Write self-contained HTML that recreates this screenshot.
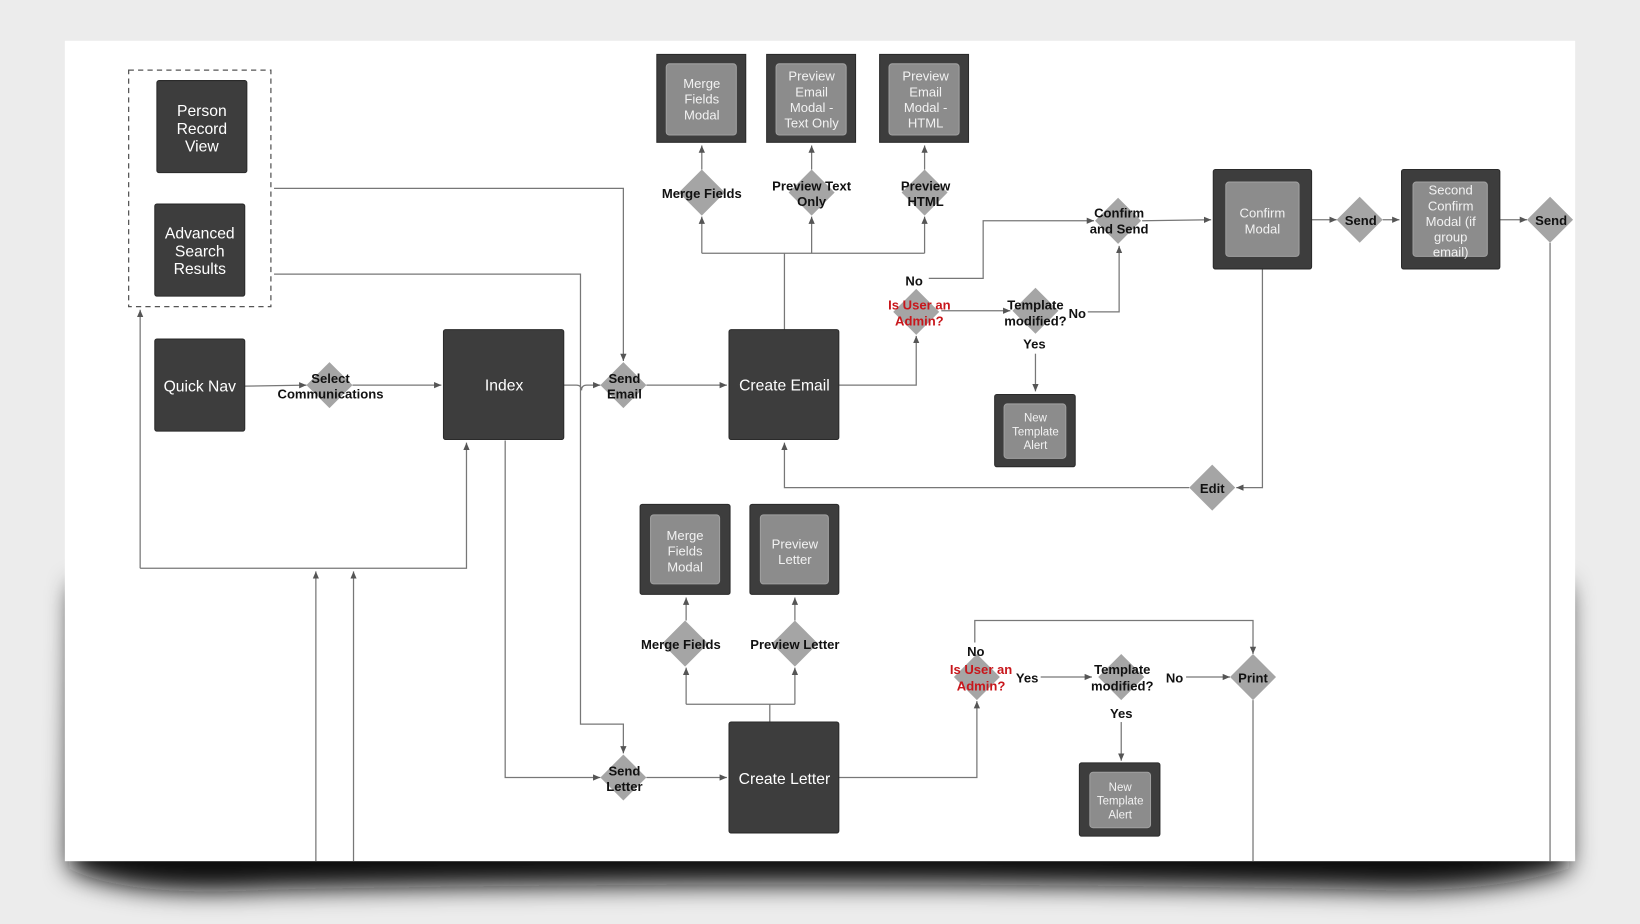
<!DOCTYPE html>
<html><head><meta charset="utf-8"><style>
html,body{margin:0;padding:0;background:#ececec;overflow:hidden}
svg{display:block}
text{font-family:"Liberation Sans",Arial,sans-serif}
.l{font-size:12.5px;font-weight:bold;fill:#111;text-anchor:middle}
.r{font-size:12.5px;font-weight:bold;fill:#c8161b;text-anchor:middle}
.w{font-size:15px;fill:#fff;text-anchor:middle}
.s{font-size:12.5px;fill:#f2f2f2;text-anchor:middle}
.t{font-size:11px;fill:#f2f2f2;text-anchor:middle}
.ln{stroke:#777;stroke-width:1.2;fill:none}
.bx{fill:#3d3d3d;stroke:#2a2a2a;stroke-width:1}
.in{fill:#8c8c8c;stroke:#a0a0a0;stroke-width:1}
.d{fill:#a5a5a5}
</style></head><body>
<svg width="1640" height="924" viewBox="0 0 1568 883" preserveAspectRatio="none">
<defs>
<filter id="bl" x="-20%" y="-50%" width="140%" height="200%"><feGaussianBlur stdDeviation="12"/></filter>
<marker id="a" markerWidth="8" markerHeight="8" refX="7" refY="4" orient="auto" markerUnits="userSpaceOnUse"><path d="M0,1 L7,4 L0,7 z" fill="#555"/></marker>
</defs>
<rect width="1568" height="883" fill="#ececec"/>
<path d="M70,560 L1498,560 L1500,830 Q1420,855 1300,850 Q784,840 260,850 Q120,858 66,830 Z" fill="#111" filter="url(#bl)"/>
<rect x="62" y="39" width="1444" height="784" fill="#fff"/>

<!-- connectors -->
<g class="ln">
<rect x="123" y="67" width="136" height="226" stroke-dasharray="5,4" stroke="#555"/>
<path d="M234,369 L293,368" marker-end="url(#a)"/>
<path d="M337,368 L422,368" marker-end="url(#a)"/>
<path d="M539,368 L551,368 Q556,368 556,373 Q556,368 561,368 L574,368" marker-end="url(#a)"/>
<path d="M618,368 L695,368" marker-end="url(#a)"/>
<path d="M262,180 L596,180 L596,345" marker-end="url(#a)"/>
<path d="M262,262 L555,262 L555,692 L596,692 L596,720" marker-end="url(#a)"/>
<path d="M483,421 L483,743 L574,743" marker-end="url(#a)"/>
<path d="M618,743 L695,743" marker-end="url(#a)"/>
<path d="M134,543 L446,543 L446,423" marker-end="url(#a)"/>
<path d="M134,543 L134,296" marker-end="url(#a)"/>
<path d="M302,823 L302,546" marker-end="url(#a)"/>
<path d="M338,823 L338,546" marker-end="url(#a)"/>
<path d="M750,315 L750,242 M671,242 L884,242"/>
<path d="M671,242 L671,207" marker-end="url(#a)"/>
<path d="M776,242 L776,207" marker-end="url(#a)"/>
<path d="M884,242 L884,207" marker-end="url(#a)"/>
<path d="M671,162 L671,139" marker-end="url(#a)"/>
<path d="M776,162 L776,139" marker-end="url(#a)"/>
<path d="M884,162 L884,139" marker-end="url(#a)"/>
<path d="M802,368 L876,368 L876,321" marker-end="url(#a)"/>
<path d="M888,266 L940,266 L940,211 L1046,211" marker-end="url(#a)"/>
<path d="M900,297 L966,297" marker-end="url(#a)"/>
<path d="M1040,298 L1070,298 L1070,235" marker-end="url(#a)"/>
<path d="M990,338 L990,374" marker-end="url(#a)"/>
<path d="M1092,211 L1158,210" marker-end="url(#a)"/>
<path d="M1254,210 L1278,210" marker-end="url(#a)"/>
<path d="M1322,210 L1338,210" marker-end="url(#a)"/>
<path d="M1434,210 L1460,210" marker-end="url(#a)"/>
<path d="M1482,232 L1482,823"/>
<path d="M1207,257 L1207,466 L1182,466" marker-end="url(#a)"/>
<path d="M1137,466 L750,466 L750,423" marker-end="url(#a)"/>
<path d="M736,690 L736,673 M656,673 L760,673"/>
<path d="M656,673 L656,638" marker-end="url(#a)"/>
<path d="M760,673 L760,638" marker-end="url(#a)"/>
<path d="M656,593 L656,571" marker-end="url(#a)"/>
<path d="M760,593 L760,571" marker-end="url(#a)"/>
<path d="M802,743 L934,743 L934,670" marker-end="url(#a)"/>
<path d="M932,614 L932,593 L1198,593 L1198,625" marker-end="url(#a)"/>
<path d="M995,647 L1044,647" marker-end="url(#a)"/>
<path d="M1134,647 L1176,647" marker-end="url(#a)"/>
<path d="M1072,690 L1072,727" marker-end="url(#a)"/>
<path d="M1198,669 L1198,823"/>
</g>

<!-- diamonds -->
<g class="d">
<polygon points="315,346 337,368 315,390 293,368"/>
<polygon points="596,346 618,368 596,390 574,368"/>
<polygon points="671,162 693,184 671,206 649,184"/>
<polygon points="776,162 798,184 776,206 754,184"/>
<polygon points="884,162 906,184 884,206 862,184"/>
<polygon points="876,276 898,298 876,320 854,298"/>
<polygon points="990,275 1012,297 990,319 968,297"/>
<polygon points="1069,189 1091,211 1069,233 1047,211"/>
<polygon points="1300,188 1322,210 1300,232 1278,210"/>
<polygon points="1482,188 1504,210 1482,232 1460,210"/>
<polygon points="1159,444 1181,466 1159,488 1137,466"/>
<polygon points="655,593 677,615 655,637 633,615"/>
<polygon points="760,593 782,615 760,637 738,615"/>
<polygon points="596,721 618,743 596,765 574,743"/>
<polygon points="934,625 956,647 934,669 912,647"/>
<polygon points="1072,625 1094,647 1072,669 1050,647"/>
<polygon points="1198,625 1220,647 1198,669 1176,647"/>
</g>

<!-- boxes -->
<rect class="bx" x="150" y="77" width="86" height="88" rx="2"/>
<rect class="bx" x="148" y="195" width="86" height="88" rx="2"/>
<rect class="bx" x="148" y="324" width="86" height="88" rx="2"/>
<rect class="bx" x="424" y="315" width="115" height="105" rx="2"/>
<rect class="bx" x="697" y="315" width="105" height="105" rx="2"/>
<rect class="bx" x="697" y="690" width="105" height="106" rx="2"/>
<rect class="bx" x="628" y="52" width="85" height="84"/><rect class="in" x="637" y="61" width="67" height="68" rx="3"/>
<rect class="bx" x="733" y="52" width="85" height="84"/><rect class="in" x="742" y="61" width="67" height="68" rx="3"/>
<rect class="bx" x="841" y="52" width="85" height="84"/><rect class="in" x="850" y="61" width="67" height="68" rx="3"/>
<rect class="bx" x="1160" y="162" width="94" height="95" rx="2"/><rect class="in" x="1172" y="174" width="70" height="71" rx="3"/>
<rect class="bx" x="1340" y="162" width="94" height="95" rx="2"/><rect class="in" x="1351" y="174" width="71" height="71" rx="3"/>
<rect class="bx" x="951" y="377" width="77" height="69" rx="2"/><rect class="in" x="960" y="386" width="59" height="52" rx="3"/>
<rect class="bx" x="612" y="482" width="86" height="86" rx="2"/><rect class="in" x="622" y="492" width="66" height="66" rx="3"/>
<rect class="bx" x="717" y="482" width="85" height="86" rx="2"/><rect class="in" x="727" y="492" width="65" height="66" rx="3"/>
<rect class="bx" x="1032" y="729" width="77" height="70" rx="2"/><rect class="in" x="1042" y="738" width="58" height="53" rx="3"/>

<!-- box text -->
<text class="w" x="193" y="111">Person</text><text class="w" x="193" y="128">Record</text><text class="w" x="193" y="145">View</text>
<text class="w" x="191" y="228">Advanced</text><text class="w" x="191" y="245">Search</text><text class="w" x="191" y="262">Results</text>
<text class="w" x="191" y="374">Quick Nav</text>
<text class="w" x="482" y="373">Index</text>
<text class="w" x="750" y="373">Create Email</text>
<text class="w" x="750" y="749">Create Letter</text>
<text class="s" x="671" y="84">Merge</text><text class="s" x="671" y="99">Fields</text><text class="s" x="671" y="114">Modal</text>
<text class="s" x="776" y="77">Preview</text><text class="s" x="776" y="92">Email</text><text class="s" x="776" y="107">Modal -</text><text class="s" x="776" y="122">Text Only</text>
<text class="s" x="885" y="77">Preview</text><text class="s" x="885" y="92">Email</text><text class="s" x="885" y="107">Modal -</text><text class="s" x="885" y="122">HTML</text>
<text class="s" x="1207" y="208">Confirm</text><text class="s" x="1207" y="223">Modal</text>
<text class="s" x="1387" y="186">Second</text><text class="s" x="1387" y="201">Confirm</text><text class="s" x="1387" y="216">Modal (if</text><text class="s" x="1387" y="231">group</text><text class="s" x="1387" y="245">email)</text>
<text class="t" x="990" y="403">New</text><text class="t" x="990" y="416">Template</text><text class="t" x="990" y="429">Alert</text>
<text class="s" x="655" y="516">Merge</text><text class="s" x="655" y="531">Fields</text><text class="s" x="655" y="546">Modal</text>
<text class="s" x="760" y="524">Preview</text><text class="s" x="760" y="539">Letter</text>
<text class="t" x="1071" y="756">New</text><text class="t" x="1071" y="769">Template</text><text class="t" x="1071" y="782">Alert</text>

<!-- labels -->
<text class="l" x="316" y="366">Select</text><text class="l" x="316" y="381">Communications</text>
<text class="l" x="597" y="366">Send</text><text class="l" x="597" y="381">Email</text>
<text class="l" x="671" y="189">Merge Fields</text>
<text class="l" x="776" y="182">Preview Text</text><text class="l" x="776" y="197">Only</text>
<text class="l" x="885" y="182">Preview</text><text class="l" x="885" y="197">HTML</text>
<text class="l" x="874" y="273">No</text>
<text class="r" x="879" y="296">Is User an</text><text class="r" x="879" y="311">Admin?</text>
<text class="l" x="990" y="296">Template</text><text class="l" x="990" y="311">modified?</text>
<text class="l" x="1030" y="304">No</text>
<text class="l" x="989" y="333">Yes</text>
<text class="l" x="1070" y="208">Confirm</text><text class="l" x="1070" y="223">and Send</text>
<text class="l" x="1301" y="215">Send</text>
<text class="l" x="1483" y="215">Send</text>
<text class="l" x="1159" y="471">Edit</text>
<text class="l" x="651" y="620">Merge Fields</text>
<text class="l" x="760" y="620">Preview Letter</text>
<text class="l" x="597" y="741">Send</text><text class="l" x="597" y="756">Letter</text>
<text class="l" x="933" y="627">No</text>
<text class="r" x="938" y="644">Is User an</text><text class="r" x="938" y="660">Admin?</text>
<text class="l" x="982" y="652">Yes</text>
<text class="l" x="1073" y="644">Template</text><text class="l" x="1073" y="660">modified?</text>
<text class="l" x="1123" y="652">No</text>
<text class="l" x="1072" y="686">Yes</text>
<text class="l" x="1198" y="652">Print</text>
</svg>
</body></html>
